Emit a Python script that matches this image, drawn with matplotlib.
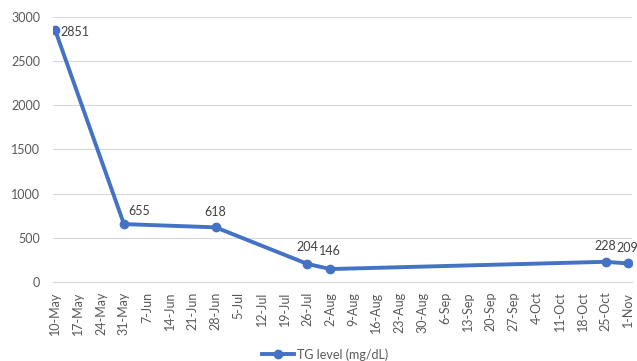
import numpy as np
import matplotlib
matplotlib.use('Agg')
import matplotlib.pyplot as plt

plt.rcParams['font.family'] = ['Lato', 'DejaVu Sans']

# weekly category axis
weeks = ['10-May', '17-May', '24-May', '31-May', '7-Jun', '14-Jun', '21-Jun',
         '28-Jun', '5-Jul', '12-Jul', '19-Jul', '26-Jul', '2-Aug', '9-Aug',
         '16-Aug', '23-Aug', '30-Aug', '6-Sep', '13-Sep', '20-Sep', '27-Sep',
         '4-Oct', '11-Oct', '18-Oct', '25-Oct', '1-Nov']

# measurements
tg_weeks = ['10-May', '31-May', '28-Jun', '26-Jul', '2-Aug', '25-Oct', '1-Nov']
tg_level = [2851, 655, 618, 204, 146, 228, 209]

yticks = [0, 500, 1000, 1500, 2000, 2500, 3000]

blue = '#4472C4'
grey = '#595959'

x = [weeks.index(w) for w in tg_weeks]

fig = plt.figure(figsize=(6.37, 3.61), dpi=100)
ax = fig.add_axes([0.083, 0.219, 0.909, 0.734])

ax.plot(x, tg_level, color=blue, lw=2.8, marker='o', ms=6,
        label='TG level (mg/dL)', zorder=3)

# data labels: offsets in points
offsets = [(4, -1, 'left', 'center'), (11, 5, 'center', 'bottom'),
           (0, 7, 'center', 'bottom'), (0, 8, 'center', 'bottom'),
           (0, 9, 'center', 'bottom'), (0, 7, 'center', 'bottom'),
           (-1, 7, 'center', 'bottom')]
for (xi, v), (dx, dy, ha, va) in zip(zip(x, tg_level), offsets):
    ax.annotate(str(v), (xi, v), xytext=(dx, dy), textcoords='offset points',
                ha=ha, va=va, fontsize=9, color='#404040')

ax.set_xlim(-0.1, len(weeks) - 1 + 0.15)
ax.set_ylim(0, 3000)
ax.set_xticks(range(len(weeks)))
ax.set_xticklabels(weeks, rotation=90, fontsize=9, color=grey)
ax.set_yticks(yticks)
ax.set_yticklabels([str(t) for t in yticks], fontsize=9, color=grey)
ax.tick_params(axis='y', length=0, pad=9)
ax.tick_params(axis='x', length=0, pad=7)

ax.grid(axis='y', color='#d9d9d9', lw=0.8)
ax.set_axisbelow(True)
for s in ['top', 'right', 'left']:
    ax.spines[s].set_visible(False)
ax.spines['bottom'].set_color('#d9d9d9')

fig.legend(loc='lower center', bbox_to_anchor=(0.51, -0.03), frameon=False,
           fontsize=9, labelcolor=grey, handlelength=2.6, handletextpad=0.2)

fig.savefig('out.png', dpi=100)
